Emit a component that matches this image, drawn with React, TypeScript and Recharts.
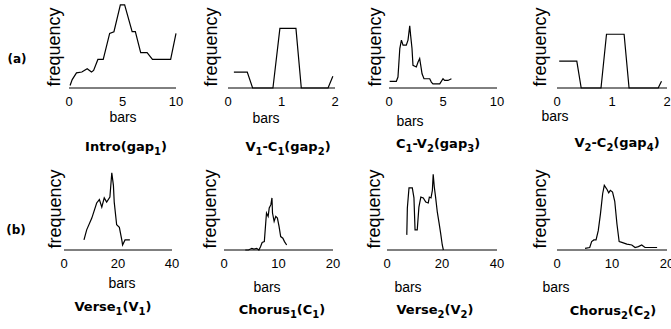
import React from 'react';
import { LineChart, Line, XAxis, YAxis } from 'recharts';

// (a) gap histograms, x in bars, y in % of plot height
const introX = [0.1, 0.3, 0.7, 1.2, 1.7, 2.1, 2.3, 2.7, 3.2, 3.8, 4.2, 4.8, 5.2, 5.9, 6.2, 6.7, 7.3, 7.8, 9.5, 10];
const introY = [3, 10, 18, 19, 23, 19, 21, 34, 34, 65, 67, 99, 99, 67, 67, 42, 42, 34, 34, 65];

const gap2X = [0.11, 0.36, 0.46, 0.84, 0.97, 1.27, 1.37, 1.87, 1.96];
const gap2Y = [19, 19, 0, 0, 71, 71, 0, 0, 14];

const gap3X = [0.06, 0.68, 0.83, 1.0, 1.15, 1.3, 1.6, 1.76, 1.92, 2.0, 2.13, 2.22, 2.53, 2.69, 2.84, 2.94, 3.06, 3.24, 3.77, 3.92, 4.07, 4.7, 5.0, 5.15, 5.46, 5.78];
const gap3Y = [8, 8, 13, 47, 57, 51, 51, 57, 74, 63, 47, 27, 25, 31, 35, 27, 17, 11, 11, 7, 5, 5, 11, 9, 9, 11];

const gap4X = [0.04, 0.36, 0.44, 0.8, 0.9, 1.22, 1.31, 1.84, 1.9];
const gap4Y = [32, 32, 0, 0, 64, 64, 0, 0, 8];

// (b) section lengths
const verse1X = [7.4, 8.4, 10.3, 12.1, 13.1, 14, 14.9, 15.8, 17, 17.7, 18.3, 18.6, 19.5, 20.5, 21.4, 21.7, 22.6, 24.4];
const verse1Y = [12, 24, 38, 56, 60, 51, 62, 57, 63, 92, 77, 57, 30, 27, 12, 6, 12, 12];

const chorus1X = [3.9, 4.5, 5.1, 5.5, 6, 6.4, 6.7, 7, 7.4, 7.7, 7.8, 8.1, 8.3, 8.6, 8.8, 8.9, 9.2, 9.5, 9.8, 10.1, 10.4, 10.8, 11.1, 11.5];
const chorus1Y = [0, 0, 2, 1, 2, 0, 4, 9, 10, 36, 44, 40, 50, 54, 62, 44, 34, 40, 38, 28, 16, 14, 10, 6];

const verse2X = [7.2, 7.4, 8, 9.2, 9.8, 10.2, 11, 11.6, 12.3, 13.2, 14.1, 15, 15.4, 16, 16.5, 16.8, 17.2, 17.7, 18.3, 18.9, 19.5, 20.1, 20.5];
const verse2Y = [18, 50, 74, 74, 62, 24, 24, 51, 63, 62, 57, 56, 63, 62, 71, 90, 75, 62, 45, 33, 20, 6, 0];

const chorus2X = [5.1, 5.95, 6.3, 6.7, 7.1, 7.5, 7.9, 8.3, 8.6, 9.1, 9.4, 9.7, 10.1, 10.5, 10.9, 11.3, 11.8, 12.7, 13.6, 14.2, 14.8, 15.4, 16, 17.1, 18.2];
const chorus2Y = [2, 3, 10, 12, 12, 23, 43, 67, 77, 72, 68, 71, 69, 58, 31, 10, 9, 7, 6, 3, 4, 6, 3, 3, 3];

const ticks10 = [0, 5, 10];
const ticks2 = [0, 1, 2];
const ticks40 = [0, 20, 40];
const ticks20 = [0, 10, 20];

const FONT = '"Liberation Sans", Arial, sans-serif';
const BOLD = '"DejaVu Sans", Verdana, sans-serif';
const PLOT_H = 84;
const TOP = 4;
const LEFT = 30;
const AXIS_H = 45;

const sub = (s: string) => (
  <sub style={{ fontSize: 10, verticalAlign: '-4px', lineHeight: 0 }}>{s}</sub>
);

type Panel = {
  xs: number[]; ys: number[]; ticks: number[];
  x0: number; x1: number; axisY: number;
  freqX: number; barsX: number; barsY: number;
  title: React.ReactNode; titleX: number; titleY: number;
};

const panels: Panel[] = [
  { xs: introX, ys: introY, ticks: ticks10, x0: 69, x1: 176, axisY: 88, freqX: 55, barsX: 123, barsY: 117,
    title: <>Intro(gap{sub('1')})</>, titleX: 126, titleY: 147 },
  { xs: gap2X, ys: gap2Y, ticks: ticks2, x0: 228, x1: 335, axisY: 88, freqX: 212, barsX: 266, barsY: 118,
    title: <>V{sub('1')}-C{sub('1')}(gap{sub('2')})</>, titleX: 288, titleY: 147 },
  { xs: gap3X, ys: gap3Y, ticks: ticks10, x0: 389, x1: 497, axisY: 88, freqX: 376, barsX: 410, barsY: 121,
    title: <>C{sub('1')}-V{sub('2')}(gap{sub('3')})</>, titleX: 438, titleY: 144 },
  { xs: gap4X, ys: gap4Y, ticks: ticks2, x0: 557, x1: 667, axisY: 88, freqX: 541, barsX: 555, barsY: 116,
    title: <>V{sub('2')}-C{sub('2')}(gap{sub('4')})</>, titleX: 617, titleY: 143 },
  { xs: verse1X, ys: verse1Y, ticks: ticks40, x0: 64, x1: 172, axisY: 250, freqX: 56, barsX: 122, barsY: 283,
    title: <>Verse{sub('1')}(V{sub('1')})</>, titleX: 113, titleY: 307 },
  { xs: chorus1X, ys: chorus1Y, ticks: ticks20, x0: 224, x1: 333, axisY: 250, freqX: 211, barsX: 267, barsY: 287,
    title: <>Chorus{sub('1')}(C{sub('1')})</>, titleX: 282, titleY: 310 },
  { xs: verse2X, ys: verse2Y, ticks: ticks40, x0: 387, x1: 497, axisY: 250, freqX: 375, barsX: 408, barsY: 287,
    title: <>Verse{sub('2')}(V{sub('2')})</>, titleX: 435, titleY: 310 },
  { xs: chorus2X, ys: chorus2Y, ticks: ticks20, x0: 557, x1: 667, axisY: 250, freqX: 541, barsX: 556, barsY: 287,
    title: <>Chorus{sub('2')}(C{sub('2')})</>, titleX: 613, titleY: 311 },
];

function SmallChart({ p }: { p: Panel }) {
  const data = p.xs.map((x, i) => ({ x, y: p.ys[i] }));
  const left = p.x0 - LEFT;
  const top = p.axisY - PLOT_H - TOP;
  const width = Math.min(p.x1 + 8, 671) - left;
  const height = TOP + PLOT_H + AXIS_H;
  const right = width - LEFT - (p.x1 - p.x0);
  const max = p.ticks[p.ticks.length - 1];
  return (
    <div style={{ position: 'absolute', left, top }}>
      <LineChart width={width} height={height} data={data} margin={{ top: TOP, right, bottom: 0, left: 0 }}>
        <XAxis
          dataKey="x" type="number" domain={[0, max]} ticks={p.ticks} interval={0}
          height={AXIS_H} stroke="#000" tickLine={false} tickSize={6} tickMargin={3}
          tick={{ fill: '#000', fontSize: 13, fontFamily: FONT }}
          label={() => (
            <text x={p.barsX - left} y={p.barsY - top + 5} textAnchor="middle"
              fontSize={14} fontFamily={FONT} fill="#000">bars</text>
          )}
        />
        <YAxis
          type="number" domain={[0, 100]} width={LEFT} tick={false} axisLine={false} tickLine={false}
          label={() => (
            <text transform={`translate(${p.freqX - left + 4.7},${p.axisY - 41 - top}) rotate(-90)`}
              textAnchor="middle" fontSize={18} fontFamily={FONT} fill="#000">frequency</text>
          )}
        />
        <Line dataKey="y" type="linear" stroke="#000" strokeWidth={1.2} dot={false} isAnimationActive={false} />
      </LineChart>
    </div>
  );
}

export default function App() {
  const titleStyle: React.CSSProperties = {
    position: 'absolute', transform: 'translate(-50%, -50%)', whiteSpace: 'nowrap',
    font: `bold 13px ${BOLD}`, lineHeight: '16px', color: '#000',
  };
  return (
    <div style={{ position: 'absolute', left: 0, top: 0, width: 671, height: 329, background: '#fff', overflow: 'hidden' }}>
      {panels.map((p, i) => <SmallChart key={i} p={p} />)}
      {panels.map((p, i) => (
        <div key={'t' + i} style={{ ...titleStyle, left: p.titleX, top: p.titleY }}>{p.title}</div>
      ))}
      <div style={{ ...titleStyle, left: 17, top: 59, fontSize: 12 }}>(a)</div>
      <div style={{ ...titleStyle, left: 16, top: 230, fontSize: 12 }}>(b)</div>
    </div>
  );
}
